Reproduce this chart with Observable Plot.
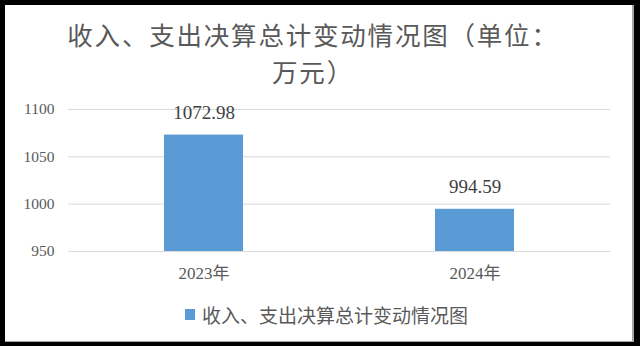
<!DOCTYPE html>
<html>
<head>
<meta charset="utf-8">
<script src="https://cdn.jsdelivr.net/npm/d3@7"></script>
<script src="https://cdn.jsdelivr.net/npm/@observablehq/plot@0.6"></script>
<style>
  html, body { margin: 0; padding: 0; }
  body { width: 640px; height: 346px; background: #000; position: relative; overflow: hidden; }
  #panel { position: absolute; left: 5px; top: 5px; width: 627px; height: 336px; background: #fff;
           border-right: 2px solid #a6a6a6; border-bottom: 1px solid #a6a6a6; }
  .tline { position: absolute; left: 0; width: 626px; text-align: center; white-space: nowrap;
           font-family: "Noto Sans CJK SC", sans-serif; font-size: 25.5px; letter-spacing: 1.8px;
           line-height: 37px; height: 37px; color: #595959; }
  #chart { position: absolute; left: 0; top: 90px; }
  #legend { position: absolute; left: 185px; top: 303px; height: 22px; display: flex; align-items: center;
            font-family: "Noto Sans CJK SC", sans-serif; font-size: 19px; color: #595959; }
  #legend .sw { width: 10px; height: 11px; margin-right: 7px; }
</style>
</head>
<body>
<div id="panel"></div>
<div id="title"></div>
<div id="chart"></div>
<div id="legend"></div>
<script>
const titleLines = ["收入、支出决算总计变动情况图（单位：", "万元）"];
const years = ["2023年", "2024年"];
const values = [1072.98, 994.59];
const yTicks = [950, 1000, 1050, 1100];
const seriesName = "收入、支出决算总计变动情况图";
const barColor = "#5b9bd5";

const titleEl = document.getElementById("title");
titleLines.forEach((t, i) => {
  const d = document.createElement("div");
  d.className = "tline";
  d.style.top = (15 + i * 37) + "px";
  d.textContent = t;
  titleEl.appendChild(d);
});

const data = years.map((y, i) => ({year: y, value: values[i]}));

const chart = Plot.plot({
  width: 640,
  height: 200,
  marginLeft: 68,
  marginRight: 30,
  marginTop: 19,
  marginBottom: 39,
  style: {fontFamily: "'Liberation Serif', 'Noto Sans CJK SC', serif", fontSize: "15.5px", color: "#595959", background: "transparent"},
  x: {type: "band", domain: years, paddingInner: 0.708, paddingOuter: 0.354, label: null},
  y: {domain: [yTicks[0], yTicks[yTicks.length - 1]], label: null},
  marks: [
    Plot.gridY(yTicks, {stroke: "#d9d9d9", strokeOpacity: 1, strokeWidth: 1}),
    Plot.barY(data, {x: "year", y1: yTicks[0], y2: "value", fill: barColor}),
    Plot.text(data, {x: "year", y: "value", text: d => d.value.toFixed(2), dy: -22,
      fontSize: 19, fill: "#404040", fontFamily: "'Liberation Serif', serif"}),
    Plot.axisY(yTicks, {tickSize: 0, tickPadding: 14, label: null, fontSize: 15.5, fill: "#595959",
      tickFormat: d => String(d)}),
    Plot.axisX({tickSize: 0, tickPadding: 15, label: null, fontSize: 17, fill: "#595959"})
  ]
});
document.getElementById("chart").appendChild(chart);

const lg = document.getElementById("legend");
const sw = document.createElement("span");
sw.className = "sw";
sw.style.background = barColor;
lg.appendChild(sw);
const lt = document.createElement("span");
lt.textContent = seriesName;
lg.appendChild(lt);
</script>
</body>
</html>
